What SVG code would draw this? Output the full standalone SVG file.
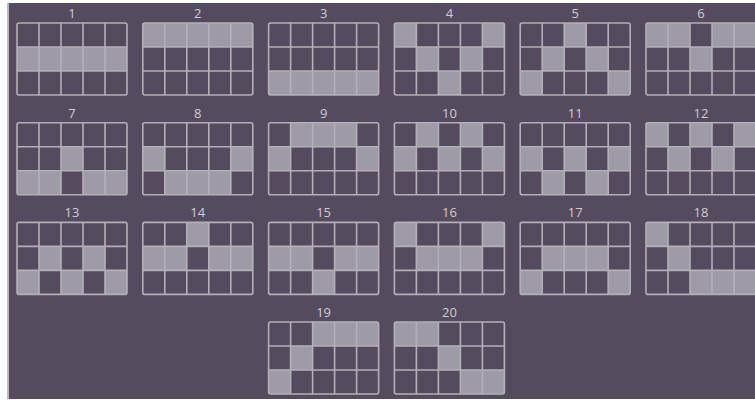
<svg xmlns="http://www.w3.org/2000/svg" xmlns:xlink="http://www.w3.org/1999/xlink" width="755" height="403" viewBox="0 0 755 403">
<style>
.lbl{font-family:"Open Sans","Noto Sans",sans-serif;font-size:13px;fill:#cfcbd3;text-anchor:middle}
.on{fill:#9e9aa6}
.cell{fill:#554b5f}
</style>
<defs>
<g id="lines" fill="none" stroke="#b4b0ba" stroke-width="1.6">
<rect x="0" y="0" width="110" height="72" rx="2"/>
<path d="M22 0V72M44 0V72M66 0V72M88 0V72M0 24H110M0 48H110"/>
</g>
<rect id="c" width="22" height="24" class="on"/>
</defs>
<rect x="0" y="0" width="755" height="403" fill="#ffffff"/>
<rect x="9" y="3" width="746" height="396" fill="#554b5f"/>
<rect x="7" y="3" width="2" height="396" fill="#bcb8c0"/>

<g id="line1" transform="translate(17,23)"><text class="lbl" x="55" y="-5">1</text><use href="#c" x="0" y="24"/><use href="#c" x="22" y="24"/><use href="#c" x="44" y="24"/><use href="#c" x="66" y="24"/><use href="#c" x="88" y="24"/><use href="#lines"/></g>
<g id="line2" transform="translate(142.8,23)"><text class="lbl" x="55" y="-5">2</text><use href="#c" x="0" y="0"/><use href="#c" x="22" y="0"/><use href="#c" x="44" y="0"/><use href="#c" x="66" y="0"/><use href="#c" x="88" y="0"/><use href="#lines"/></g>
<g id="line3" transform="translate(268.6,23)"><text class="lbl" x="55" y="-5">3</text><use href="#c" x="0" y="48"/><use href="#c" x="22" y="48"/><use href="#c" x="44" y="48"/><use href="#c" x="66" y="48"/><use href="#c" x="88" y="48"/><use href="#lines"/></g>
<g id="line4" transform="translate(394.4,23)"><text class="lbl" x="55" y="-5">4</text><use href="#c" x="0" y="0"/><use href="#c" x="22" y="24"/><use href="#c" x="44" y="48"/><use href="#c" x="66" y="24"/><use href="#c" x="88" y="0"/><use href="#lines"/></g>
<g id="line5" transform="translate(520.2,23)"><text class="lbl" x="55" y="-5">5</text><use href="#c" x="0" y="48"/><use href="#c" x="22" y="24"/><use href="#c" x="44" y="0"/><use href="#c" x="66" y="24"/><use href="#c" x="88" y="48"/><use href="#lines"/></g>
<g id="line6" transform="translate(646,23)"><text class="lbl" x="55" y="-5">6</text><use href="#c" x="0" y="0"/><use href="#c" x="22" y="0"/><use href="#c" x="44" y="24"/><use href="#c" x="66" y="0"/><use href="#c" x="88" y="0"/><use href="#lines"/></g>

<g id="line7" transform="translate(17,122.7)"><text class="lbl" x="55" y="-5">7</text><use href="#c" x="0" y="48"/><use href="#c" x="22" y="48"/><use href="#c" x="44" y="24"/><use href="#c" x="66" y="48"/><use href="#c" x="88" y="48"/><use href="#lines"/></g>
<g id="line8" transform="translate(142.8,122.7)"><text class="lbl" x="55" y="-5">8</text><use href="#c" x="0" y="24"/><use href="#c" x="22" y="48"/><use href="#c" x="44" y="48"/><use href="#c" x="66" y="48"/><use href="#c" x="88" y="24"/><use href="#lines"/></g>
<g id="line9" transform="translate(268.6,122.7)"><text class="lbl" x="55" y="-5">9</text><use href="#c" x="0" y="24"/><use href="#c" x="22" y="0"/><use href="#c" x="44" y="0"/><use href="#c" x="66" y="0"/><use href="#c" x="88" y="24"/><use href="#lines"/></g>
<g id="line10" transform="translate(394.4,122.7)"><text class="lbl" x="55" y="-5">10</text><use href="#c" x="0" y="24"/><use href="#c" x="22" y="0"/><use href="#c" x="44" y="24"/><use href="#c" x="66" y="0"/><use href="#c" x="88" y="24"/><use href="#lines"/></g>
<g id="line11" transform="translate(520.2,122.7)"><text class="lbl" x="55" y="-5">11</text><use href="#c" x="0" y="24"/><use href="#c" x="22" y="48"/><use href="#c" x="44" y="24"/><use href="#c" x="66" y="48"/><use href="#c" x="88" y="24"/><use href="#lines"/></g>
<g id="line12" transform="translate(646,122.7)"><text class="lbl" x="55" y="-5">12</text><use href="#c" x="0" y="0"/><use href="#c" x="22" y="24"/><use href="#c" x="44" y="0"/><use href="#c" x="66" y="24"/><use href="#c" x="88" y="0"/><use href="#lines"/></g>

<g id="line13" transform="translate(17,222.4)"><text class="lbl" x="55" y="-5">13</text><use href="#c" x="0" y="48"/><use href="#c" x="22" y="24"/><use href="#c" x="44" y="48"/><use href="#c" x="66" y="24"/><use href="#c" x="88" y="48"/><use href="#lines"/></g>
<g id="line14" transform="translate(142.8,222.4)"><text class="lbl" x="55" y="-5">14</text><use href="#c" x="0" y="24"/><use href="#c" x="22" y="24"/><use href="#c" x="44" y="0"/><use href="#c" x="66" y="24"/><use href="#c" x="88" y="24"/><use href="#lines"/></g>
<g id="line15" transform="translate(268.6,222.4)"><text class="lbl" x="55" y="-5">15</text><use href="#c" x="0" y="24"/><use href="#c" x="22" y="24"/><use href="#c" x="44" y="48"/><use href="#c" x="66" y="24"/><use href="#c" x="88" y="24"/><use href="#lines"/></g>
<g id="line16" transform="translate(394.4,222.4)"><text class="lbl" x="55" y="-5">16</text><use href="#c" x="0" y="0"/><use href="#c" x="22" y="24"/><use href="#c" x="44" y="24"/><use href="#c" x="66" y="24"/><use href="#c" x="88" y="0"/><use href="#lines"/></g>
<g id="line17" transform="translate(520.2,222.4)"><text class="lbl" x="55" y="-5">17</text><use href="#c" x="0" y="48"/><use href="#c" x="22" y="24"/><use href="#c" x="44" y="24"/><use href="#c" x="66" y="24"/><use href="#c" x="88" y="48"/><use href="#lines"/></g>
<g id="line18" transform="translate(646,222.4)"><text class="lbl" x="55" y="-5">18</text><use href="#c" x="0" y="0"/><use href="#c" x="22" y="24"/><use href="#c" x="44" y="48"/><use href="#c" x="66" y="48"/><use href="#c" x="88" y="48"/><use href="#lines"/></g>

<g id="line19" transform="translate(268.6,322)"><text class="lbl" x="55" y="-5">19</text><use href="#c" x="0" y="48"/><use href="#c" x="22" y="24"/><use href="#c" x="44" y="0"/><use href="#c" x="66" y="0"/><use href="#c" x="88" y="0"/><use href="#lines"/></g>
<g id="line20" transform="translate(394.4,322)"><text class="lbl" x="55" y="-5">20</text><use href="#c" x="0" y="0"/><use href="#c" x="22" y="0"/><use href="#c" x="44" y="24"/><use href="#c" x="66" y="48"/><use href="#c" x="88" y="48"/><use href="#lines"/></g>
</svg>
